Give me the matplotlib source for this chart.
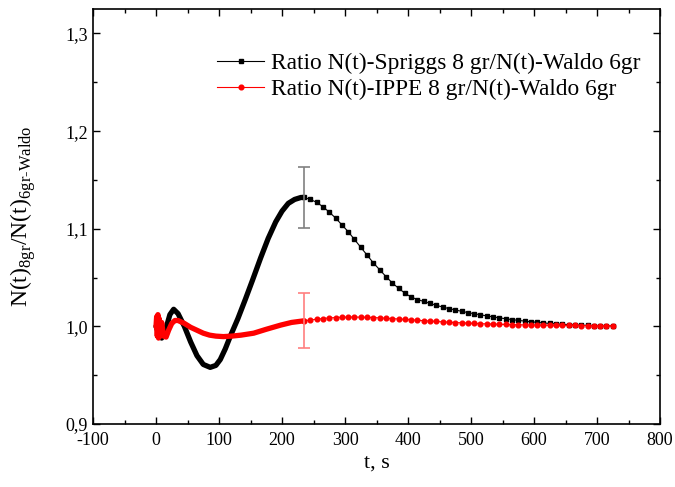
import matplotlib
matplotlib.use("Agg")
import matplotlib.pyplot as plt
from matplotlib.ticker import MultipleLocator, FuncFormatter

plt.rcParams['font.family'] = ['Liberation Serif', 'DejaVu Serif']
plt.rcParams['mathtext.fontset'] = 'custom'
plt.rcParams['mathtext.rm'] = 'Liberation Serif'
plt.rcParams['axes.unicode_minus'] = False

# early part (dense sampling, drawn as a thick line)
t_spr_early = [0, 4, 9, 15, 22, 28, 35, 45, 55, 65, 75, 86, 95, 102, 110, 118,
               130, 142, 153, 166, 178, 190, 200, 210, 220, 230, 235]
r_spr_early = [1.000, 0.993, 0.988, 0.996, 1.012, 1.0175, 1.013, 1.000, 0.984,
               0.970, 0.961, 0.958, 0.960, 0.966, 0.977, 0.990, 1.008, 1.028,
               1.047, 1.070, 1.090, 1.107, 1.118, 1.126, 1.130, 1.132, 1.132]

# late part, one point every 10 s
t_late = [235, 245, 255, 265, 275, 285, 295, 305, 315, 325, 335, 345, 355, 365,
          375, 385, 395, 405, 415, 425, 435, 445, 455, 465, 475, 485, 495, 505,
          515, 525, 535, 545, 555, 565, 575, 585, 595, 605, 615, 625, 635, 645,
          655, 665, 675, 685, 695, 705, 715, 725]
r_spr_late = [1.132, 1.130, 1.127, 1.1225, 1.117, 1.111, 1.104, 1.097, 1.089,
              1.081, 1.073, 1.065, 1.058, 1.051, 1.0445, 1.039, 1.034, 1.030,
              1.0275, 1.0255, 1.0235, 1.0215, 1.0198, 1.0182, 1.0168, 1.0154,
              1.0141, 1.0129, 1.0118, 1.0107, 1.0097, 1.0087, 1.0078, 1.0069,
              1.0061, 1.0054, 1.0047, 1.0041, 1.0035, 1.0030, 1.0025, 1.0021,
              1.0018, 1.0015, 1.0012, 1.0010, 1.0008, 1.0006, 1.0005, 1.0004]

t_ippe_early = [0, 1, 2, 3, 4, 5, 7, 9, 12, 16, 20, 25, 30, 35, 45, 55, 65, 75,
                85, 95, 107, 120, 135, 155, 175, 198, 215, 235]
r_ippe_early = [1.000, 1.010, 0.990, 1.012, 0.988, 1.008, 0.990, 1.004, 0.990,
                0.989, 0.996, 1.003, 1.006, 1.006, 1.003, 0.999, 0.996, 0.993,
                0.991, 0.990, 0.9895, 0.990, 0.991, 0.993, 0.997, 1.0013, 1.004,
                1.0057]
r_ippe_late = [1.0057, 1.0065, 1.0073, 1.008, 1.0086, 1.009, 1.0093, 1.0095,
               1.0095, 1.0094, 1.0092, 1.009, 1.0087, 1.0083, 1.0079, 1.0075,
               1.0071, 1.0067, 1.0062, 1.0058, 1.0054, 1.005, 1.0046, 1.0042,
               1.0039, 1.0036, 1.0033, 1.003, 1.0027, 1.0025, 1.0023, 1.0021,
               1.0019, 1.0017, 1.0016, 1.0015, 1.0014, 1.0013, 1.0012, 1.0011,
               1.001, 1.001, 1.0009, 1.0009, 1.0008, 1.0008, 1.0008, 1.0008,
               1.0008, 1.0008]

err_t = 235
err_rel = 0.028

fig = plt.figure(figsize=(6.75, 4.87), dpi=100)
ax = fig.add_axes([0.1378, 0.1294, 0.840, 0.852])

ax.plot(t_spr_early, r_spr_early, color='black', lw=3.8, solid_capstyle='round')
ax.plot(t_ippe_early, r_ippe_early, color='red', lw=3.8, solid_capstyle='round')

ax.plot(t_late, r_spr_late, color='black', lw=0.8, marker='s', ms=3.0,
        label='Ratio N(t)-Spriggs 8 gr/N(t)-Waldo 6gr')
ax.plot(t_late, r_ippe_late, color='red', lw=0.8, marker='o', ms=3.4,
        label='Ratio N(t)-IPPE 8 gr/N(t)-Waldo 6gr')

v_spr = r_spr_late[0]
v_ippe = r_ippe_late[0]
ax.errorbar([err_t], [v_spr], yerr=[v_spr * err_rel], fmt='none',
            ecolor='#808080', elinewidth=1.2, capsize=4, capthick=1.2)
ax.errorbar([err_t], [v_ippe], yerr=[v_ippe * err_rel], fmt='none',
            ecolor='#ff7f7f', elinewidth=1.2, capsize=4, capthick=1.2)

ax.set_xlim(-100, 800)
ax.set_ylim(0.9, 1.325)
ax.xaxis.set_major_locator(MultipleLocator(100))
ax.xaxis.set_minor_locator(MultipleLocator(50))
ax.yaxis.set_major_locator(MultipleLocator(0.1))
ax.yaxis.set_minor_locator(MultipleLocator(0.05))
ax.yaxis.set_major_formatter(FuncFormatter(lambda v, p: f'{v:.1f}'.replace('.', ',')))
ax.tick_params(which='both', direction='in', top=True, right=True,
               labelsize=13, width=1)
ax.tick_params(which='major', length=5)
ax.tick_params(axis='x', pad=6)
ax.tick_params(which='minor', length=3)
for s in ax.spines.values():
    s.set_linewidth(1.2)

ax.set_xlabel('t, s', fontsize=16, labelpad=3)
ax.set_ylabel(r'N(t)$_{\mathregular{8gr}}$/N(t)$_{\mathregular{6gr\text{-}Waldo}}$',
              fontsize=17, labelpad=20)

ax.legend(loc='upper left', bbox_to_anchor=(0.182, 0.946), frameon=False,
          fontsize=16.8, handlelength=2.0, handletextpad=0.3, labelspacing=0.2)

fig.savefig('out.png', dpi=100)
